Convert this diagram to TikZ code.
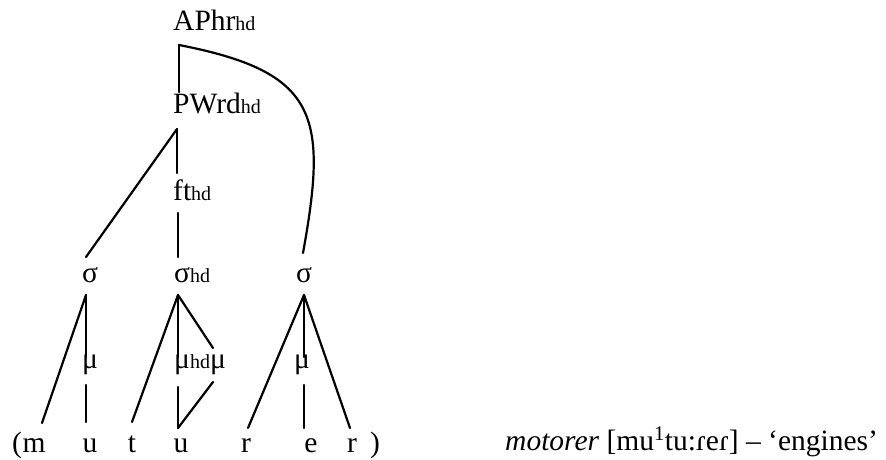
\documentclass[tikz,border=0pt]{standalone}
\usepackage{fontspec}
\setmainfont{Liberation Serif}
\newcommand\hdsub{{\fontsize{20}{20}\selectfont hd}}
\begin{document}
\begin{tikzpicture}[x=1pt,y=-1pt,
  t/.style={font=\fontsize{29.5}{32}\selectfont, inner sep=0pt, anchor=base},
  tw/.style={t, anchor=base west},
  ln/.style={line width=2.2pt, line cap=round, line join=round}]
\useasboundingbox (0,0) rectangle (886,459);
% nodes
\node[tw] (ap) at (173,30) {APhr\hdsub};
\node[tw] (pw) at (173,113) {PWrd\hdsub};
\node[tw] (ft) at (173,200) {ft\hdsub};
\node[t]  (sL) at (90,282) {σ};
\node[tw] (sH) at (174,282) {σ\hdsub};
\node[t]  (sR) at (304,282) {σ};
\node[t]  (mL) at (90,368) {μ};
\node[tw] (mH) at (174,368) {μ\hdsub};
\node[t]  (m2) at (218,368) {μ};
\node[t]  (mR) at (302,368) {μ};
\node[t] (lp) at (17,452) {(};
\node[t] (bm) at (34,452) {m};
\node[t] (bu1) at (90,452) {u};
\node[t] (bt) at (132,452) {t};
\node[t] (bu2) at (181,452) {u};
\node[t] (br1) at (246,452) {r};
\node[t] (be) at (311,452) {e};
\node[t] (br2) at (352,452) {r};
\node[t] (rp) at (375,452) {)};
\node[tw] (cap) at (505,450) {\textit{motorer} [mu\textsuperscript{1}tu:ɾeɾ] – ‘engines’};
% connectors
\draw[ln] ([xshift=6pt,yshift=-15pt]ap.base west) -- ([xshift=6pt,yshift=21pt]pw.base west);
\draw[ln] ([xshift=6pt,yshift=-15pt]ap.base west) .. controls (318,72) and (328,115) .. ([xshift=-1pt,yshift=29pt]sR.base);
\draw[ln] ([xshift=4pt,yshift=-16pt]pw.base west) -- ([xshift=-4pt,yshift=25pt]sL.base);
\draw[ln] ([xshift=4pt,yshift=-16pt]pw.base west) -- ([xshift=4pt,yshift=27pt]ft.base west);
\draw[ln] ([xshift=5pt,yshift=-13pt]ft.base west) -- ([xshift=4pt,yshift=25pt]sH.base west);
% left syllable
\draw[ln] ([xshift=-4pt,yshift=-13pt]sL.base) -- ([xshift=8pt,yshift=29pt]bm.base);
\draw[ln] ([xshift=-4pt,yshift=-13pt]sL.base) -- ([xshift=-4pt,yshift=11pt]mL.base);
\draw[ln] ([xshift=-4pt,yshift=-17pt]mL.base) -- ([xshift=-4pt,yshift=30pt]bu1.base);
% head syllable
\draw[ln] ([xshift=4pt,yshift=-13pt]sH.base west) -- ([xshift=0pt,yshift=30pt]bt.base);
\draw[ln] ([xshift=4pt,yshift=-13pt]sH.base west) -- ([xshift=4pt,yshift=11pt]mH.base west);
\draw[ln] ([xshift=4pt,yshift=-13pt]sH.base west) -- ([xshift=-5pt,yshift=20pt]m2.base);
\draw[ln] ([xshift=4pt,yshift=-19pt]mH.base west) -- ([xshift=-3pt,yshift=24pt]bu2.base);
\draw[ln] ([xshift=-5pt,yshift=-14pt]m2.base) -- ([xshift=-3pt,yshift=24pt]bu2.base);
% right syllable
\draw[ln] ([yshift=-13pt]sR.base) -- ([xshift=2pt,yshift=24pt]br1.base);
\draw[ln] ([yshift=-13pt]sR.base) -- ([xshift=-2pt,yshift=24pt]br2.base);
\draw[ln] ([yshift=-13pt]sR.base) -- ([xshift=2pt,yshift=11pt]mR.base);
\draw[ln] ([xshift=2pt,yshift=-17pt]mR.base) -- ([xshift=-7pt,yshift=24pt]be.base);
\end{tikzpicture}
\end{document}
